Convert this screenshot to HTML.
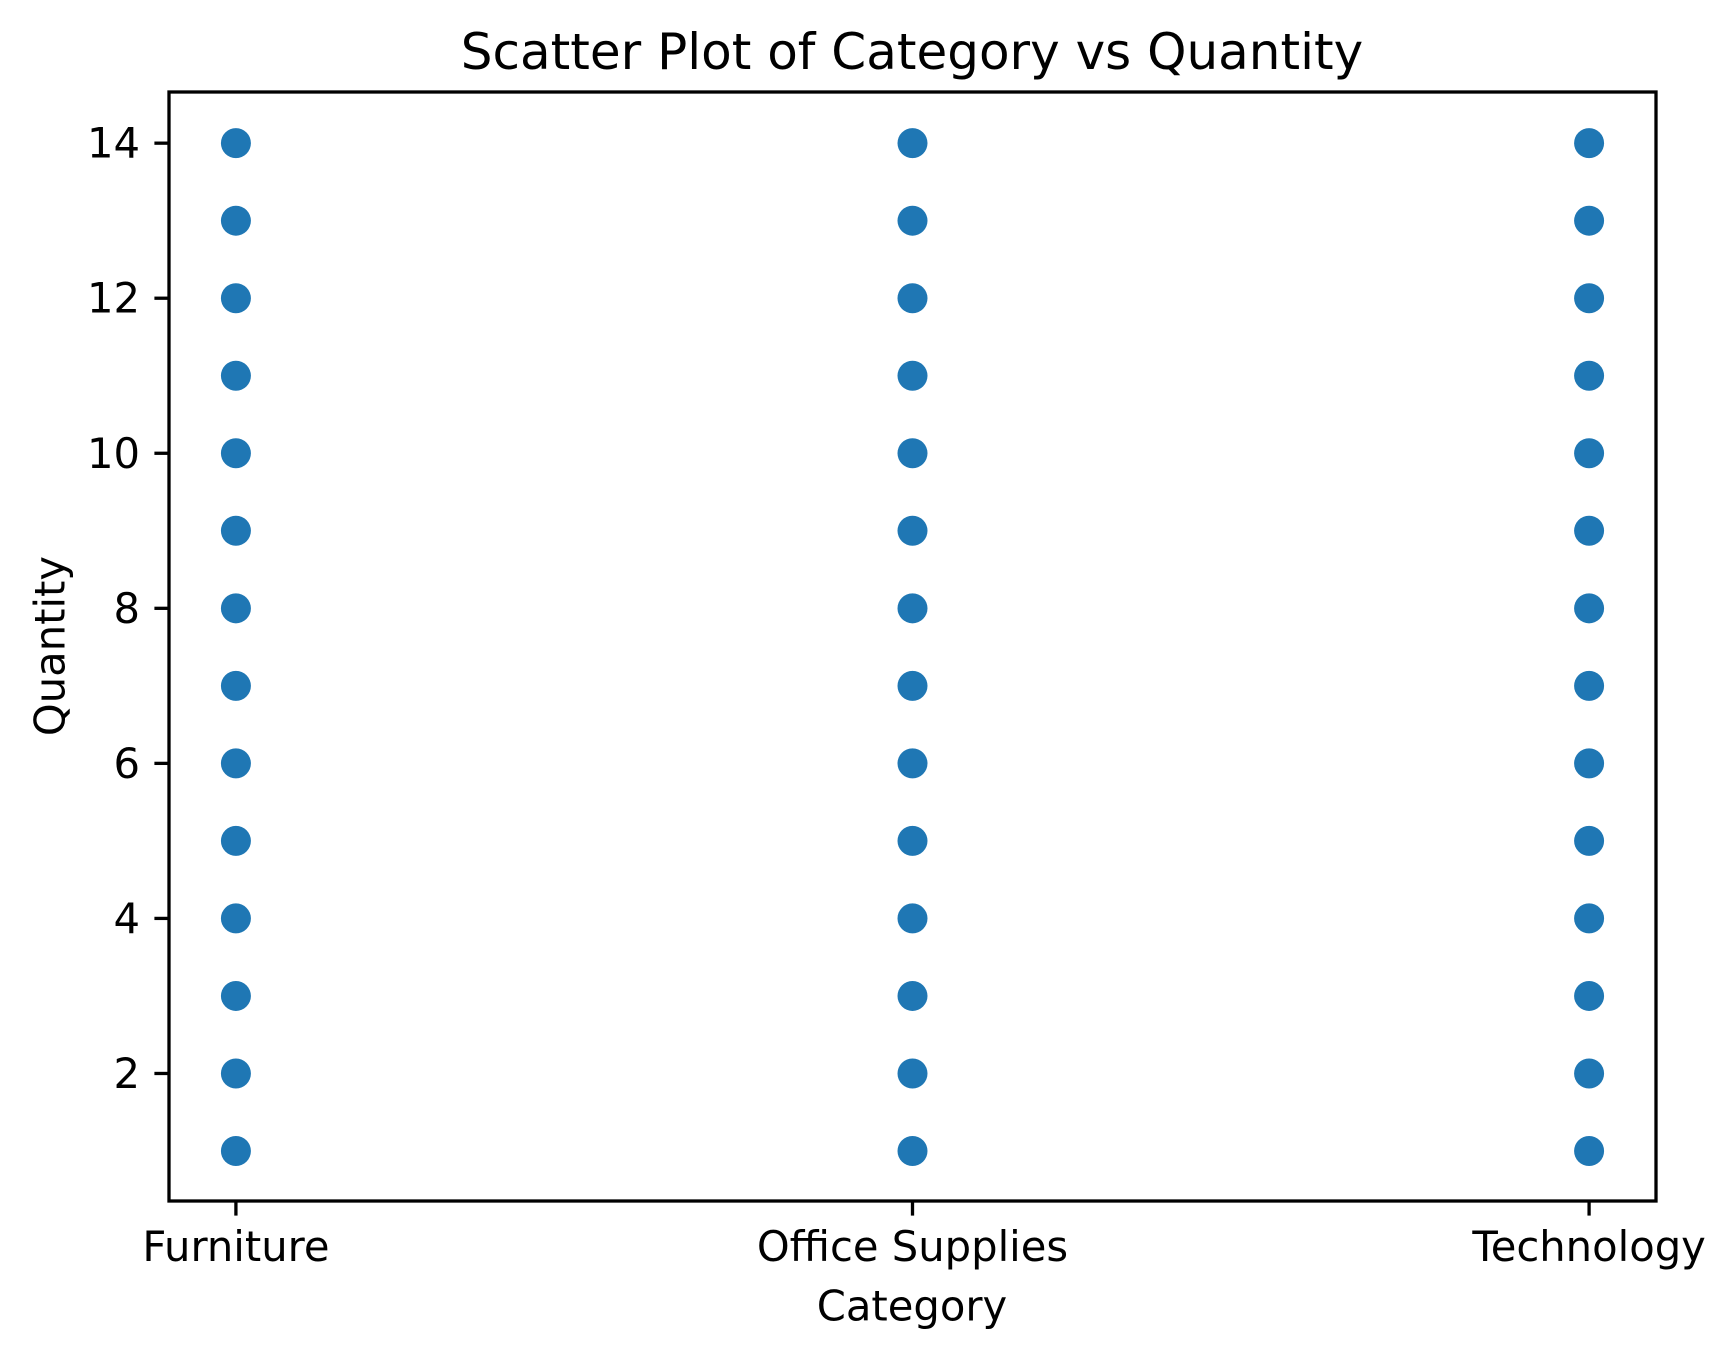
<!DOCTYPE html>
<html><head><meta charset="utf-8"><style>
html,body{margin:0;padding:0;background:#fff;}
svg{display:block;font-family:"DejaVu Sans","Liberation Sans",sans-serif;}
</style></head><body>
<svg id="chart" width="1735" height="1357" viewBox="0 0 1735 1357" xmlns="http://www.w3.org/2000/svg">
<rect width="1735" height="1357" fill="#fff"/>
<text x="912" y="52" font-size="50" text-anchor="middle" dominant-baseline="central">Scatter Plot of Category vs Quantity</text>
<g id="marks"></g>
<g id="axes"></g>
<text x="912" y="1306" font-size="41.7" text-anchor="middle" dominant-baseline="central">Category</text>
<text x="50" y="646" font-size="41.7" text-anchor="middle" dominant-baseline="central" transform="rotate(-90 50 646)">Quantity</text>
</svg>
<script>
const categories = ["Furniture", "Office Supplies", "Technology"];
const furnitureQty = [1,2,3,4,5,6,7,8,9,10,11,12,13,14];
const officeQty = [1,2,3,4,5,6,7,8,9,10,11,12,13,14];
const technologyQty = [1,2,3,4,5,6,7,8,9,10,11,12,13,14];
const yTicks = [2,4,6,8,10,12,14];

const NS = "http://www.w3.org/2000/svg";
const L = 169, R = 1656, T = 92, B = 1201;
const xMin = -0.0989, xMax = 2.0989;
const yMin = 0.355, yMax = 14.66;
const xs = i => L + (i - xMin) / (xMax - xMin) * (R - L);
const ys = v => B - (v - yMin) / (yMax - yMin) * (B - T);

function mk(tag, attrs, parent) {
  const e = document.createElementNS(NS, tag);
  for (const k in attrs) e.setAttribute(k, attrs[k]);
  parent.appendChild(e);
  return e;
}
const marks = document.getElementById('marks');
const axes = document.getElementById('axes');
const series = [furnitureQty, officeQty, technologyQty];
series.forEach((vals, ci) => {
  vals.forEach(v => {
    const c = mk('circle', {cx: xs(ci), cy: ys(v), r: 15, fill: '#1f77b4'}, marks);
    
    
  });
});
const frame = mk('rect', {x: L, y: T, width: R - L, height: B - T, fill: 'none', stroke: '#000', 'stroke-width': 3.3}, axes);


categories.forEach((c, i) => {
  const x = xs(i);
  const t = mk('line', {x1: x, x2: x, y1: B, y2: B + 14.6, stroke: '#000', 'stroke-width': 3.3}, axes);
  
  
  const lb = mk('text', {x: x, y: B + 29, 'font-size': 41.7, 'text-anchor': 'middle', 'dominant-baseline': 'hanging'}, axes);
  lb.textContent = c;
  
  
});
yTicks.forEach(v => {
  const y = ys(v);
  const t = mk('line', {x1: L - 14.6, x2: L, y1: y, y2: y, stroke: '#000', 'stroke-width': 3.3}, axes);
  
  
  const lb = mk('text', {x: L - 29, y: y, 'font-size': 41.7, 'text-anchor': 'end', 'dominant-baseline': 'central'}, axes);
  lb.textContent = v;
  
  
});
</script>
</body></html>
